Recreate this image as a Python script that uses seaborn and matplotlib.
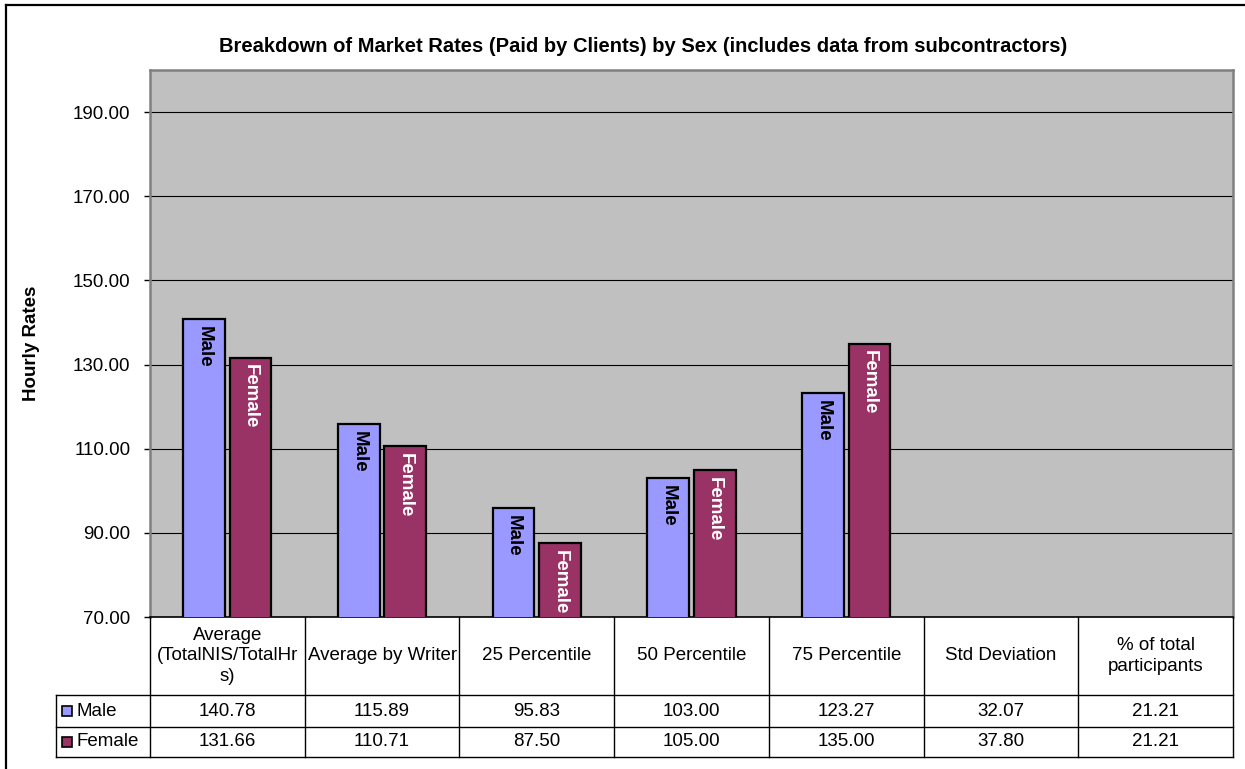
import pandas as pd
import matplotlib.pyplot as plt
import seaborn as sns
from matplotlib.patches import Rectangle
from matplotlib.lines import Line2D

plt.rcParams['font.family'] = ['Liberation Sans', 'DejaVu Sans']

# Datos
categorias = ["Average\n(TotalNIS/TotalHr\ns)", "Average by Writer", "25 Percentile",
              "50 Percentile", "75 Percentile", "Std Deviation", "% of total\nparticipants"]
male = [140.78, 115.89, 95.83, 103.00, 123.27, 32.07, 21.21]
female = [131.66, 110.71, 87.50, 105.00, 135.00, 37.80, 21.21]
series = ["Male", "Female"]
colores = {"Male": "#9999FF", "Female": "#993366"}
yticks = [70, 90, 110, 130, 150, 170, 190]

df = pd.DataFrame({
    "cat": list(range(len(categorias))) * 2,
    "sexo": ["Male"] * len(male) + ["Female"] * len(female),
    "valor": male + female,
})

FS = 13.5
W, H = 1245, 769
fig = plt.figure(figsize=(W / 100, H / 100), dpi=100)

# Area del grafico
left, right, top, bottom = 150, 1233, 70, 617
ax = fig.add_axes([left / W, 1 - bottom / H, (right - left) / W, (bottom - top) / H])
ax.set_facecolor("#C0C0C0")
sns.barplot(data=df, x="cat", y="valor", hue="sexo", hue_order=series,
            palette=colores, saturation=1, width=0.6, gap=0.1, edgecolor="black",
            linewidth=1.6, legend=False, ax=ax, zorder=3)
ax.set_xlim(-0.5, len(categorias) - 0.5)
ax.set_ylim(70, 200)
ax.set_yticks(yticks)
ax.set_yticklabels([f"{v:.2f}" for v in yticks], fontsize=FS)
ax.set_xticks([])
ax.set_xlabel("")
ax.set_ylabel("Hourly Rates", fontsize=FS, fontweight="bold")
ax.yaxis.set_label_coords(-(left - 40) / (right - left), 0.5)
ax.tick_params(axis="y", direction="out", length=4, width=1, color="black", pad=10)
ax.grid(axis="y", color="black", linewidth=0.8, zorder=1)
ax.set_axisbelow(True)
for s in ["top", "right", "left"]:
    ax.spines[s].set_color("#808080")
    ax.spines[s].set_linewidth(1.8)
ax.spines["bottom"].set_color("black")
ax.spines["bottom"].set_linewidth(1.2)

# Etiquetas dentro de las barras
for cont, nombre in zip(ax.containers, series):
    txt_color = "black" if nombre == "Male" else "white"
    for bar in cont:
        h = bar.get_height()
        if h <= 70:
            continue
        ax.annotate(nombre, (bar.get_x() + bar.get_width() / 2, h),
                    xytext=(0, -5), textcoords="offset points",
                    rotation=270, ha="center", va="top", fontsize=FS,
                    fontweight="bold", color=txt_color, zorder=5)

# Tabla de datos
tb_bottom = 757
axt = fig.add_axes([left / W, 1 - tb_bottom / H, (right - left) / W, (tb_bottom - bottom) / H])
axt.set_xlim(-0.5, len(categorias) - 0.5)
axt.set_ylim(0, tb_bottom - bottom)
axt.axis("off")
colw = (right - left) / len(categorias)


def px(x):
    return -0.5 + (x - left) / colw


lk = dict(color="black", linewidth=1, clip_on=False)
x0 = px(56)
xe = len(categorias) - 0.5
for y in [0, 30, 62]:
    axt.plot([x0, xe], [y, y], **lk)
axt.plot([x0, x0], [0, 62], **lk)
for i in range(len(categorias) + 1):
    axt.plot([i - 0.5, i - 0.5], [0, 140], **lk)

for i, c in enumerate(categorias):
    axt.text(i, 101, c, ha="center", va="center", fontsize=FS, linespacing=1.25)
    axt.text(i, 46, f"{male[i]:.2f}", ha="center", va="center", fontsize=FS)
    axt.text(i, 15, f"{female[i]:.2f}", ha="center", va="center", fontsize=FS)

for nombre, yc in zip(series, [46, 15]):
    axt.add_patch(Rectangle((px(62), yc - 5), 10 / colw, 10, facecolor=colores[nombre],
                            edgecolor="black", linewidth=1.2, clip_on=False))
    axt.text(px(77), yc, nombre, ha="left", va="center", fontsize=FS)

# Titulo y borde exterior
fig.text(643 / W, 1 - 47 / H,
         "Breakdown of Market Rates (Paid by Clients) by Sex (includes data from subcontractors)",
         ha="center", va="center", fontsize=14.5, fontweight="bold")
fig.add_artist(Line2D([6 / W, 1], [1 - 5 / H, 1 - 5 / H], color="black", linewidth=1.6))
fig.add_artist(Line2D([6 / W, 6 / W], [0, 1 - 5 / H], color="black", linewidth=1.6))

fig.savefig("out.png", dpi=100)
